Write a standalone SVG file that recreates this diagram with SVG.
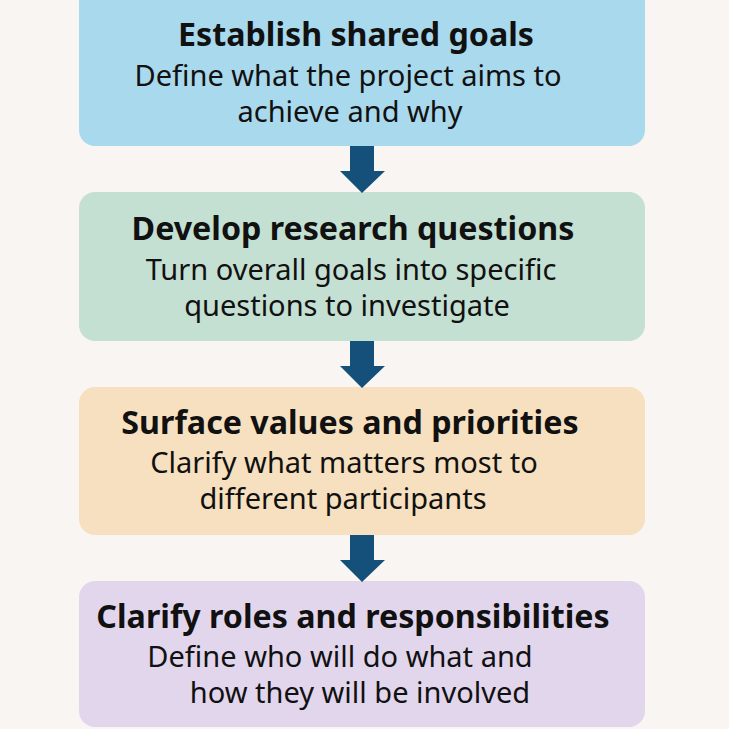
<svg xmlns="http://www.w3.org/2000/svg" width="729" height="729" viewBox="0 0 729 729">
<style>
.t{font-family:"Noto Sans","DejaVu Sans",sans-serif;font-weight:700;font-size:32.2px;fill:#111;text-anchor:middle}
.s{font-family:"Noto Sans","DejaVu Sans",sans-serif;font-weight:400;font-size:29px;fill:#111;text-anchor:middle}
.arrow{fill:#15507b}
</style>
<rect width="729" height="729" fill="#f9f5f2"/>
<g id="n1"><rect x="79" y="-15" width="566" height="161" rx="16" fill="#a9d9ed"/>
<text class="t" x="356" y="46">Establish shared goals</text>
<text class="s" x="348" y="86">Define what the project aims to</text>
<text class="s" x="350" y="122">achieve and why</text></g>
<g id="n2"><rect x="79" y="192" width="566" height="149" rx="16" fill="#c4e0d2"/>
<text class="t" x="353" y="240">Develop research questions</text>
<text class="s" x="351" y="280">Turn overall goals into specific</text>
<text class="s" x="347" y="316">questions to investigate</text></g>
<g id="n3"><rect x="79" y="387" width="566" height="148" rx="16" fill="#f6e0bf"/>
<text class="t" x="350" y="434">Surface values and priorities</text>
<text class="s" x="344" y="473">Clarify what matters most to</text>
<text class="s" x="343" y="509">different participants</text></g>
<g id="n4"><rect x="79" y="581" width="566" height="146" rx="16" fill="#e2d6ed"/>
<text class="t" x="353" y="628">Clarify roles and responsibilities</text>
<text class="s" x="340" y="667">Define who will do what and</text>
<text class="s" x="360" y="703">how they will be involved</text></g>
<g id="connectors">
<path class="arrow" d="M350 146 H374 V171 H385 L362 193 L340 171 H350 Z"/>
<path class="arrow" d="M350 341 H374 V366 H385 L362 388 L340 366 H350 Z"/>
<path class="arrow" d="M350 535 H374 V560 H385 L362 582 L340 560 H350 Z"/>
</g>
</svg>
